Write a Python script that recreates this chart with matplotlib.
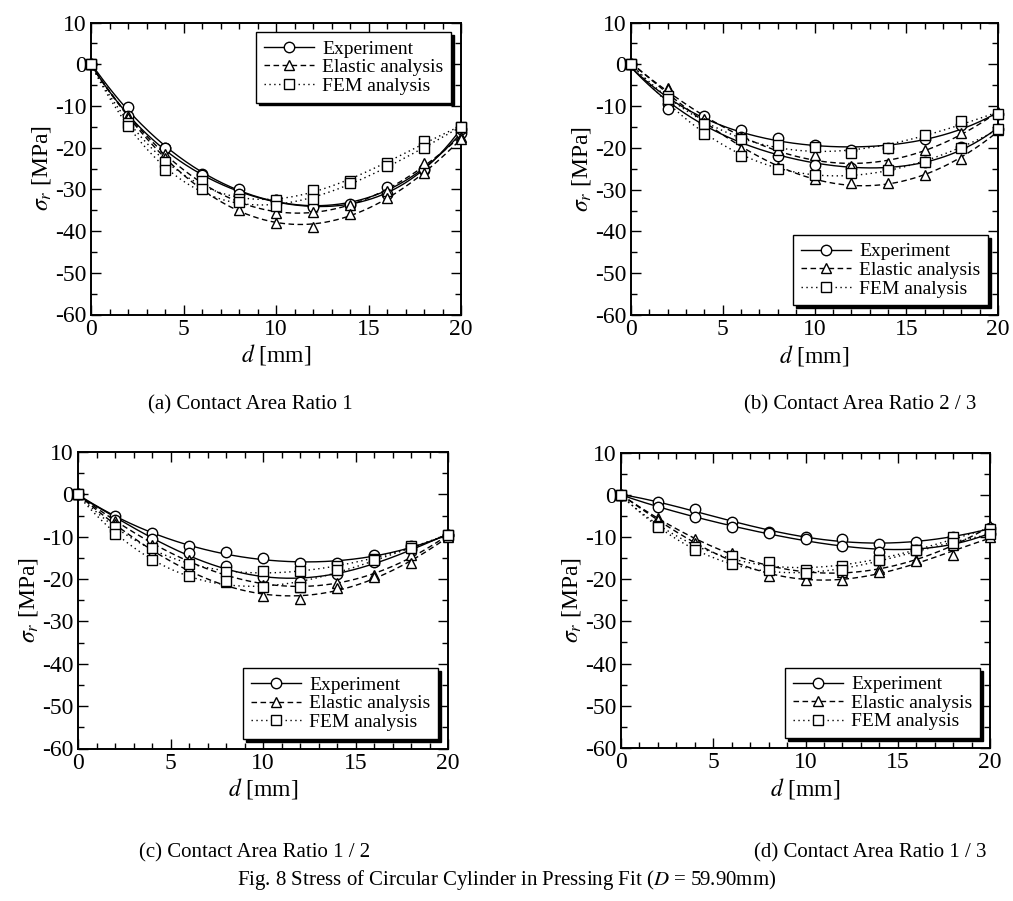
import numpy as np
import matplotlib
matplotlib.use("Agg")
import matplotlib.pyplot as plt
from matplotlib.ticker import MultipleLocator

plt.rcParams['font.family'] = ['Liberation Serif', 'DejaVu Serif']
plt.rcParams['mathtext.fontset'] = 'stix'
plt.rcParams['axes.unicode_minus'] = False

d = [0, 2, 4, 6, 8, 10, 12, 14, 16, 18, 20]

# Panel (a) Contact Area Ratio 1
a_exp1 = [0, -10.3, -20.0, -26.3, -30.0, -32.5, -34.0, -33.7, -29.5, -25.3, -16.4]
a_exp2 = [0, -12.3, -20.2, -26.5, -31.0, -32.5, -34.2, -33.5, -31.0, -25.0, -15.5]
a_ela1 = [0, -12.5, -21.5, -28.5, -32.5, -35.6, -35.5, -33.8, -30.5, -23.6, -17.5]
a_ela2 = [0, -13.0, -22.5, -29.5, -35.0, -38.0, -39.0, -36.0, -32.0, -26.0, -18.0]
a_fem1 = [0, -14.0, -23.5, -28.0, -32.3, -32.5, -30.2, -28.0, -23.6, -18.5, -15.0]
a_fem2 = [0, -14.8, -25.3, -29.8, -33.0, -34.0, -32.3, -28.5, -24.5, -20.0, -15.0]

# Panel (b) Contact Area Ratio 2/3
b_exp1 = [0, -9.6, -12.3, -15.8, -17.7, -19.4, -20.5, -20.0, -17.8, -14.5, -12.0]
b_exp2 = [0, -10.6, -14.0, -17.5, -21.9, -24.0, -24.8, -25.0, -23.4, -19.8, -15.5]
b_ela1 = [0, -5.6, -13.2, -17.5, -20.6, -21.8, -24.3, -23.6, -20.4, -16.5, -11.5]
b_ela2 = [0, -6.0, -14.0, -20.2, -24.5, -27.5, -28.5, -28.3, -26.6, -22.7, -15.8]
b_fem1 = [0, -7.6, -14.3, -17.9, -19.4, -19.8, -21.3, -20.0, -16.9, -13.6, -11.8]
b_fem2 = [0, -8.4, -16.7, -21.9, -25.0, -26.6, -25.9, -25.4, -23.4, -20.0, -15.5]

# Panel (c) Contact Area Ratio 1/2
c_exp1 = [0, -5.1, -9.2, -12.2, -13.7, -15.1, -16.3, -16.1, -14.3, -12.3, -9.6]
c_exp2 = [0, -6.0, -10.6, -13.9, -16.9, -19.6, -20.6, -18.8, -16.0, -12.8, -9.6]
c_ela1 = [0, -6.2, -12.0, -15.5, -18.5, -21.5, -21.8, -21.0, -19.0, -14.3, -9.8]
c_ela2 = [0, -7.0, -13.9, -17.5, -20.8, -24.0, -24.8, -22.2, -19.4, -16.1, -10.0]
c_fem1 = [0, -7.8, -12.7, -16.5, -18.3, -18.1, -18.1, -17.0, -15.2, -12.3, -9.6]
c_fem2 = [0, -9.4, -15.5, -19.3, -20.4, -21.8, -21.8, -17.8, -15.5, -12.6, -9.6]

# Panel (d) Contact Area Ratio 1/3
d_exp1 = [0, -1.8, -3.4, -6.5, -8.9, -10.0, -10.4, -11.6, -11.3, -9.9, -8.0]
d_exp2 = [0, -2.8, -5.3, -7.7, -9.0, -10.5, -12.1, -13.6, -13.0, -11.0, -9.4]
d_ela1 = [0, -5.5, -10.5, -13.8, -17.0, -18.5, -18.2, -17.5, -15.5, -12.0, -7.5]
d_ela2 = [0, -6.0, -11.5, -15.0, -19.2, -20.2, -20.2, -18.2, -15.8, -14.2, -10.0]
d_fem1 = [0, -7.4, -12.5, -14.6, -16.0, -17.8, -16.9, -15.4, -13.0, -10.0, -8.1]
d_fem2 = [0, -7.6, -13.0, -16.4, -17.8, -18.6, -17.8, -15.5, -13.2, -11.5, -9.4]

legend_labels = ["Experiment", "Elastic analysis", "FEM analysis"]
captions = ["(a) Contact Area Ratio 1", "(b) Contact Area Ratio 2 / 3",
            "(c) Contact Area Ratio 1 / 2", "(d) Contact Area Ratio 1 / 3"]
fig_title = "Fig. 8 Stress of Circular Cylinder in Pressing Fit ($D$ = 59.90mm)"

W, H = 1013, 901
fig = plt.figure(figsize=(W / 100, H / 100), dpi=100)

def px_axes(x0, x1, ytop, ybot):
    return fig.add_axes([x0 / W, 1 - ybot / H, (x1 - x0) / W, (ybot - ytop) / H])

panels = [
    (px_axes(91, 461, 22.5, 314.5), (a_exp1, a_exp2), (a_ela1, a_ela2), (a_fem1, a_fem2), 'upper right', (1.0, 1.0)),
    (px_axes(631, 998, 22.5, 315), (b_exp1, b_exp2), (b_ela1, b_ela2), (b_fem1, b_fem2), 'lower right', (1.0, 0.0)),
    (px_axes(78, 448, 452, 748.5), (c_exp1, c_exp2), (c_ela1, c_ela2), (c_fem1, c_fem2), 'lower right', (1.0, 0.0)),
    (px_axes(621, 990, 452.5, 748), (d_exp1, d_exp2), (d_ela1, d_ela2), (d_fem1, d_fem2), 'lower right', (1.0, 0.0)),
]

styles = [
    dict(ls='-', marker='o', ms=7.5),
    dict(ls=(0, (4, 2.5)), marker='^', ms=7.5),
    dict(ls=(0, (1, 2.5)), marker='s', ms=7),
]

xs = np.linspace(0, 20, 200)
for ax, exps, elas, fems, loc, anchor in panels:
    for grp, st in zip((exps, elas, fems), styles):
        for ser in grp:
            coef = np.polyfit(d, ser, 4)
            ax.plot(xs, np.polyval(coef, xs), color='k', lw=1.0, ls=st['ls'], zorder=2)
            ax.plot(d, ser, ls='none', marker=st['marker'], ms=st['ms'],
                    mfc='white', mec='k', mew=1.0, zorder=3, clip_on=False)
    ax.set_xlim(0, 20)
    ax.set_ylim(-60, 10)
    ax.xaxis.set_major_locator(MultipleLocator(5))
    ax.xaxis.set_minor_locator(MultipleLocator(1))
    ax.yaxis.set_major_locator(MultipleLocator(10))
    ax.yaxis.set_minor_locator(MultipleLocator(5))
    ax.tick_params(which='both', direction='in', top=True, right=True, labelsize=17, pad=3)
    ax.tick_params(which='major', length=7, width=1.0)
    ax.tick_params(which='minor', length=4, width=1.0)
    for s in ax.spines.values():
        s.set_linewidth(1.4)
    ax.set_xlabel(r'$d$ [mm]', fontsize=17, labelpad=2)
    ax.set_ylabel(r'$\sigma_r$ [MPa]', fontsize=17, labelpad=2)
    handles = [
        plt.Line2D([], [], color='k', lw=1.0, ls=st['ls'], marker=st['marker'], ms=st['ms'],
                   mfc='white', mec='k') for st in styles
    ]
    leg = ax.legend(handles, legend_labels, loc=loc, bbox_to_anchor=anchor, fontsize=14,
                    frameon=True, fancybox=False, edgecolor='k', framealpha=1,
                    shadow={'color': 'k', 'alpha': 1.0}, handlelength=2.6, handletextpad=0.4,
                    labelspacing=0.05, borderpad=0.4, borderaxespad=0.5)
    leg.get_frame().set_linewidth(1.0)

cap_pos = [(250, 405), (860, 405), (255, 853), (870, 853)]
for txt, (cx, cy) in zip(captions, cap_pos):
    fig.text(cx / W, 1 - cy / H, txt, ha='center', va='center', fontsize=15)
fig.text(507 / W, 1 - 880 / H, fig_title, ha='center', va='center', fontsize=15)

fig.savefig('out.png', dpi=100)
